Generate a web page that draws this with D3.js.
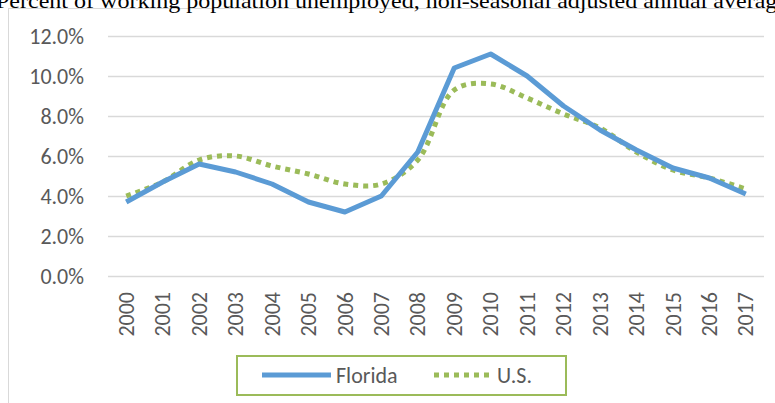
<!DOCTYPE html>
<html><head><meta charset="utf-8">
<script src="https://cdn.jsdelivr.net/npm/d3@7"></script>
<style>html,body{margin:0;padding:0;background:#fff;overflow:hidden}</style>
</head><body>
<svg id="c" width="775" height="403"></svg>
<script>
const titleText = "Percent of working population unemployed, non-seasonal adjusted annual average";
const years = ["2000","2001","2002","2003","2004","2005","2006","2007","2008","2009","2010","2011","2012","2013","2014","2015","2016","2017"];
const florida = [3.7,4.7,5.6,5.2,4.6,3.7,3.2,4.0,6.2,10.4,11.1,10.0,8.5,7.3,6.3,5.4,4.9,4.1];
const us = [4.0,4.7,5.8,6.0,5.5,5.1,4.6,4.6,5.8,9.3,9.6,8.9,8.1,7.4,6.2,5.3,4.9,4.35];
const yTicks = [0,2,4,6,8,10,12];
const seriesNames = ["Florida","U.S."];

const svg = d3.select("#c");
const font = "Calibri, Carlito, Lato, sans-serif";
const txt = "#595959";
const fs = 22;

// chart area border
svg.append("rect").attr("x",8.5).attr("y",8.5).attr("width",800).attr("height",420)
  .attr("fill","none").attr("stroke","#d9d9d9").attr("stroke-width",1);

// title (clipped at top, as in the source image)
svg.append("text").attr("x",-4).attr("y",8).attr("font-family","'Liberation Serif', 'Times New Roman', serif")
  .attr("font-size",21).attr("fill","#000")
  .attr("textLength",792).attr("lengthAdjust","spacingAndGlyphs").text(titleText);

const x = d3.scaleBand().domain(years).range([108,764]);
const y = d3.scaleLinear().domain([0,12]).range([276,36]);

// gridlines
svg.append("g").selectAll("line").data(yTicks).join("line")
  .attr("x1",108).attr("x2",764).attr("y1",d=>y(d)+0.5).attr("y2",d=>y(d)+0.5)
  .attr("stroke","#d9d9d9").attr("stroke-width",1.5);

// y axis labels
const yAxis = d3.axisLeft(y).tickValues(yTicks).tickFormat(d=>d.toFixed(1)+"%").tickSize(0).tickPadding(0);
const gy = svg.append("g").attr("transform","translate(84,0)").call(yAxis);
gy.select(".domain").remove();
gy.selectAll("text").attr("font-family",font).attr("font-size",fs).attr("fill",txt);

// x axis labels
const xAxis = d3.axisBottom(x).tickSize(0).tickPadding(0);
const gx = svg.append("g").attr("transform","translate(0,276)").call(xAxis);
gx.select(".domain").remove();
gx.selectAll("text").attr("font-family",font).attr("font-size",fs).attr("fill",txt)
  .attr("text-anchor","end").attr("dy","0.35em")
  .attr("transform","translate(0,16) rotate(-90)").attr("x",0).attr("y",0);

const cx = d => x(d)+x.bandwidth()/2;
const lineF = d3.line().x((d,i)=>cx(years[i])).y(d=>y(d));
const lineU = d3.line().x((d,i)=>cx(years[i])).y(d=>y(d)).curve(d3.curveCatmullRom.alpha(0.5));

svg.append("path").datum(us).attr("d",lineU).attr("fill","none")
  .attr("stroke","#9bbb59").attr("stroke-width",5).attr("stroke-dasharray","5,5");
svg.append("path").datum(florida).attr("d",lineF).attr("fill","none")
  .attr("stroke","#5b9bd5").attr("stroke-width",5).attr("stroke-linejoin","round");

// legend
const lg = svg.append("g");
lg.append("rect").attr("x",237).attr("y",356).attr("width",329).attr("height",39)
  .attr("fill","#fff").attr("stroke","#9bbb59").attr("stroke-width",2);
lg.append("line").attr("x1",262).attr("x2",331).attr("y1",375).attr("y2",375)
  .attr("stroke","#5b9bd5").attr("stroke-width",5);
lg.append("text").attr("x",336).attr("y",383).attr("font-family",font).attr("font-size",fs).attr("fill",txt).text(seriesNames[0]);
lg.append("line").attr("x1",434).attr("x2",490).attr("y1",375).attr("y2",375)
  .attr("stroke","#9bbb59").attr("stroke-width",5).attr("stroke-dasharray","5,5");
lg.append("text").attr("x",497).attr("y",383).attr("font-family",font).attr("font-size",fs).attr("fill",txt).text(seriesNames[1]);
</script>
</body></html>
